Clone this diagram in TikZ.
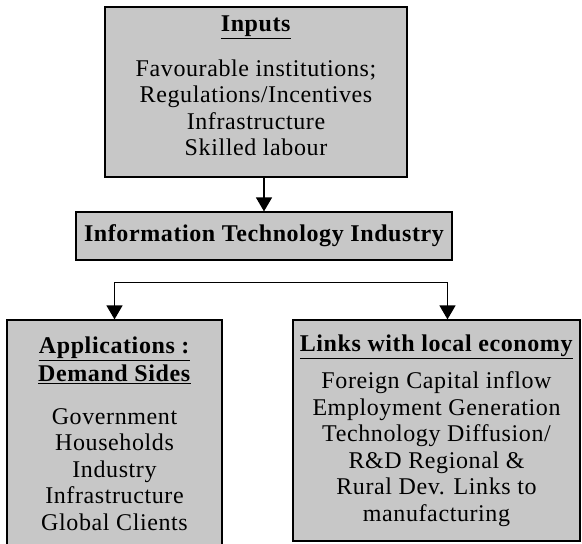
\documentclass[tikz,border=0pt]{standalone}
\usepackage{fontspec}
\setmainfont{Liberation Serif}[LetterSpace=2.5]
\usetikzlibrary{arrows.meta, positioning, calc}
\newcommand{\heading}[1]{\underline{\textbf{#1}}}

\begin{document}
\begin{tikzpicture}[
    x=1pt, y=-1pt,
    greybox/.style={rectangle, draw, line width=1.2pt, fill=black!22, align=center, inner sep=0pt, font=\fontsize{24}{26.5}\selectfont},
    arrowline/.style={-{Triangle[width=16pt,length=14pt]}, line width=1.3pt},
]
    \useasboundingbox (0,0) rectangle (582,544);

    % Inputs
    \node [greybox, minimum width=302pt, minimum height=170pt] (inputs) at (256,92)
        {\heading{Inputs}\\[18pt] Favourable institutions;\\ Regulations/Incentives\\ Infrastructure\\ Skilled labour\\[-14pt]\mbox{}};

    % IT industry
    \node [greybox, minimum width=376pt, minimum height=48pt, font=\fontsize{24}{26.5}\selectfont\bfseries] (itind) at (264,236)
        {Information Technology Industry};

    % Applications
    \node [greybox, minimum width=215pt, minimum height=228pt] (apps) at (114.5,434)
        {\heading{Applications :}\\[1.5pt] \heading{Demand Sides}\\[16pt] Government\\ Households\\ Industry\\ Infrastructure\\ Global Clients};

    % Links with local economy
    \node [greybox, minimum width=287pt, minimum height=221pt] (links) at (436.5,430.5)
        {\heading{Links with local economy}\\[11pt] Foreign Capital inflow\\ Employment Generation\\ Technology Diffusion/\\ R\&D Regional \&\\ Rural Dev. Links to\\ manufacturing};

    \coordinate (split) at ($(itind.south)+(0,22)$);
    \coordinate (linkstop) at ([xshift=11pt]links.north);

    % connectors
    \draw [arrowline] (inputs.south -| itind.north) -- (itind.north);
    \draw [arrowline] (split) -| (apps.north);
    \draw [arrowline] (split) -| (linkstop);

\end{tikzpicture}
\end{document}
